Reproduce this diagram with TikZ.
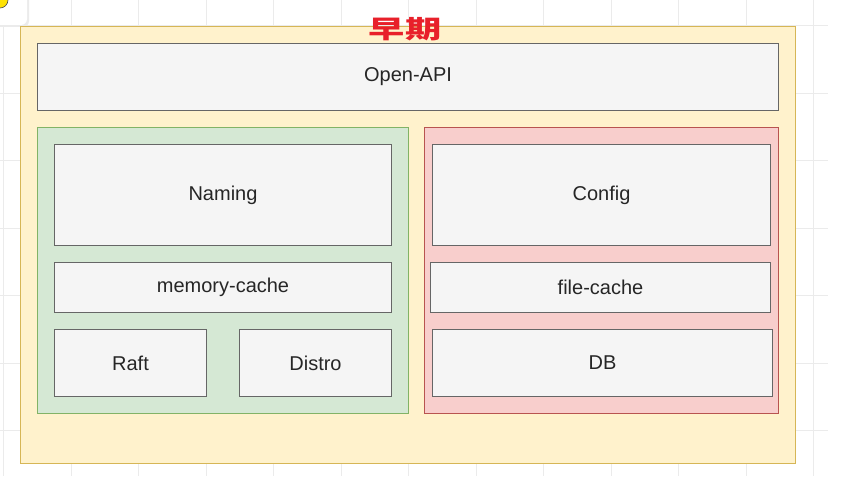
\documentclass[tikz,border=0pt]{standalone}
\usepackage{fontspec}
\usepackage{graphicx}
\setmainfont{Liberation Sans}
\newfontfamily\cjk{Noto Sans CJK SC}
\definecolor{ylwF}{HTML}{FFF2CC}
\definecolor{ylwD}{HTML}{D6B656}
\definecolor{grnF}{HTML}{D5E8D4}
\definecolor{grnD}{HTML}{82B366}
\definecolor{redF}{HTML}{F8CECC}
\definecolor{redD}{HTML}{B85450}
\definecolor{boxF}{HTML}{F5F5F5}
\definecolor{boxD}{HTML}{666666}
\definecolor{txt}{HTML}{262626}
\definecolor{gridc}{HTML}{EBEBEB}
\definecolor{ttl}{HTML}{E8202A}
\tikzset{
  container/.style={draw, line width=0.9pt, inner sep=0pt},
  blk/.style={draw=boxD, fill=boxF, line width=1pt, inner sep=0pt, text=txt, font=\fontsize{20}{24}\selectfont},
}
\begin{document}
\begin{tikzpicture}[x=1pt,y=-1pt]
\useasboundingbox (0,0) rectangle (858,476);
\fill[white] (0,0) rectangle (858,476);
% grid
\begin{scope}
\clip (0,0) rectangle (828,476);
\foreach \i in {0,...,12} {
  \draw[gridc, line width=0.8pt] ({3.5+67.5*\i},0) -- ({3.5+67.5*\i},476);
}
\foreach \j in {0,...,6} {
  \draw[gridc, line width=0.8pt] (0,{25.5+67.5*\j}) -- (828,{25.5+67.5*\j});
}
\end{scope}
% top-left card
\fill[black!8, rounded corners=6pt] (-10,-10) rectangle (29,27);
\fill[white, rounded corners=6pt] (-10,-10) rectangle (27,25);
\fill[yellow!85!orange, draw=black!70, line width=0.6pt] (0,0) circle (8);
% containers
\node[container, draw=ylwD, fill=ylwF, minimum width=775pt, minimum height=437pt, anchor=north west] (outer) at (20,26) {};
\node[blk, minimum width=741pt, minimum height=67pt, anchor=north west] (api) at (37,43) {Open-API};
\node[container, draw=grnD, fill=grnF, minimum width=371pt, minimum height=286pt, anchor=north west] (grn) at (37,127) {};
\node[container, draw=redD, fill=redF, minimum width=354pt, minimum height=286pt, anchor=north west] (red) at (424,127) {};
\node[blk, minimum width=337pt, minimum height=101pt, anchor=north west] (naming) at (54,144) {Naming};
\node[blk, minimum width=337pt, minimum height=50pt, anchor=north west] (mem) at (54,262) {memory-cache};
\node[blk, minimum width=152pt, minimum height=67pt, anchor=north west] (raft) at (54,329) {Raft};
\node[blk, minimum width=152pt, minimum height=67pt, anchor=north west] (distro) at (239,329) {Distro};
\node[blk, minimum width=338pt, minimum height=101pt, anchor=north west] (config) at (432,144) {Config};
\node[blk, minimum width=340pt, minimum height=50pt, anchor=north west] (fcache) at (430,262) {file-cache};
\node[blk, minimum width=340pt, minimum height=67pt, anchor=north west] (db) at (432,329) {DB};
% title
\node[inner sep=0pt, text=ttl, font=\cjk\bfseries\fontsize{25}{27}\selectfont] (title) at (405,29.5) {\scalebox{1.45}[1]{早\hspace{1pt}期}};
\end{tikzpicture}
\end{document}
